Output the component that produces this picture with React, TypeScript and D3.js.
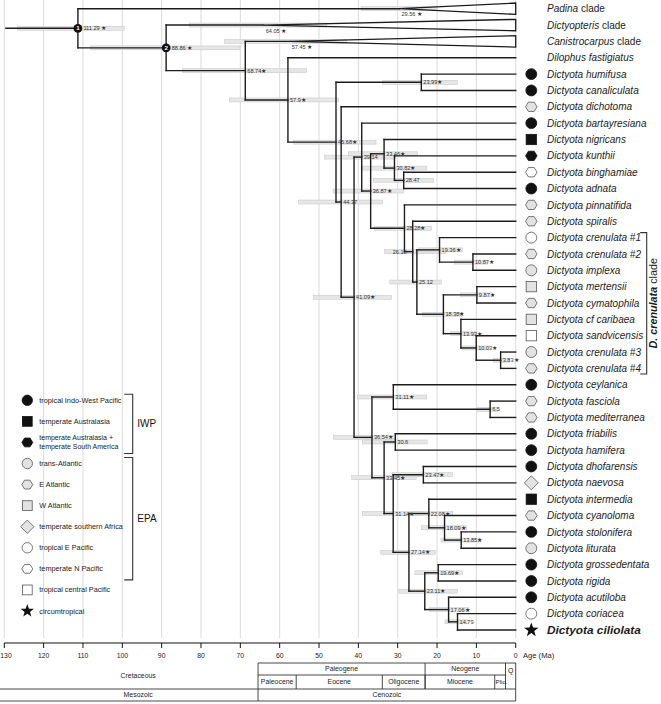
import React from 'react';
import * as d3 from 'd3';

// ---------------- DATA ----------------
const taxa = [
  'Padina clade', 'Dictyopteris clade', 'Canistrocarpus clade', 'Dilophus fastigiatus',
  'Dictyota humifusa', 'Dictyota canaliculata', 'Dictyota dichotoma', 'Dictyota bartayresiana',
  'Dictyota nigricans', 'Dictyota kunthii', 'Dictyota binghamiae', 'Dictyota adnata',
  'Dictyota pinnatifida', 'Dictyota spiralis', 'Dictyota crenulata #1', 'Dictyota crenulata #2',
  'Dictyota implexa', 'Dictyota mertensii', 'Dictyota cymatophila', 'Dictyota cf caribaea',
  'Dictyota sandvicensis', 'Dictyota crenulata #3', 'Dictyota crenulata #4', 'Dictyota ceylanica',
  'Dictyota fasciola', 'Dictyota mediterranea', 'Dictyota friabilis', 'Dictyota hamifera',
  'Dictyota dhofarensis', 'Dictyota naevosa', 'Dictyota intermedia', 'Dictyota cyanoloma',
  'Dictyota stolonifera', 'Dictyota liturata', 'Dictyota grossedentata', 'Dictyota rigida',
  'Dictyota acutiloba', 'Dictyota coriacea', 'Dictyota ciliolata',
];

const taxonParent = [
  'n1', 'n2', 'n3', 'n4',
  'n6', 'n6', 'n7', 'n9',
  'n11', 'n12', 'n13', 'n13',
  'n14', 'n15', 'n17', 'n18',
  'n18', 'n20', 'n20', 'n21',
  'n22', 'n23', 'n23', 'n25',
  'n26', 'n26', 'n28', 'n28',
  'n30', 'n30', 'n32', 'n33',
  'n34', 'n34', 'n36', 'n36',
  'n37', 'n38', 'n38',
];

const taxonRegion = [
  '', '', '', '',
  'tropical Indo-West Pacific', 'tropical Indo-West Pacific', 'E Atlantic', 'tropical Indo-West Pacific',
  'temperate Australasia', 'temperate Australasia + temperate South America', 'temperate N Pacific', 'tropical Indo-West Pacific',
  'E Atlantic', 'E Atlantic', 'tropical E Pacific', 'E Atlantic',
  'trans-Atlantic', 'W Atlantic', 'E Atlantic', 'W Atlantic',
  'tropical central Pacific', 'trans-Atlantic', 'E Atlantic', 'tropical Indo-West Pacific',
  'E Atlantic', 'E Atlantic', 'tropical Indo-West Pacific', 'tropical Indo-West Pacific',
  'tropical Indo-West Pacific', 'temperate southern Africa', 'temperate Australasia', 'E Atlantic',
  'tropical Indo-West Pacific', 'trans-Atlantic', 'tropical Indo-West Pacific', 'tropical Indo-West Pacific',
  'tropical Indo-West Pacific', 'tropical E Pacific', 'circumtropical',
];

// collapsed clades (crown ages)
const collapsedTaxa = ['Padina clade', 'Dictyopteris clade', 'Canistrocarpus clade'];
const collapsedAge = [29.56, 64.05, 57.45];
const collapsedHpdOld = [39.3, 83.0, 74.0];
const collapsedHpdYoung = [20.0, 48.0, 43.0];

const nodeIds = [
  'n1', 'n2', 'n3', 'n4', 'n5', 'n6', 'n7', 'n8', 'n9', 'n10',
  'n11', 'n12', 'n13', 'n14', 'n15', 'n16', 'n17', 'n18', 'n19', 'n20',
  'n21', 'n22', 'n23', 'n24', 'n25', 'n26', 'n27', 'n28', 'n29', 'n30',
  'n31', 'n32', 'n33', 'n34', 'n35', 'n36', 'n37', 'n38',
];
const nodeParent = [
  null, 'n1', 'n2', 'n3', 'n4', 'n5', 'n5', 'n7', 'n8', 'n9',
  'n10', 'n11', 'n12', 'n10', 'n14', 'n15', 'n16', 'n17', 'n16', 'n19',
  'n19', 'n21', 'n22', 'n8', 'n24', 'n25', 'n24', 'n27', 'n27', 'n29',
  'n29', 'n31', 'n32', 'n33', 'n31', 'n35', 'n35', 'n37',
];
const nodeAge = [
  111.29, 88.86, 68.74, 57.9, 45.68, 23.99, 44.37, 41.09, 39.14, 36.87,
  33.46, 30.82, 28.47, 28.28, 26.18, 25.12, 19.36, 10.87, 18.38, 9.87,
  13.93, 10.03, 3.83, 36.54, 31.11, 6.5, 33.45, 30.6, 31.14, 23.47,
  27.14, 22.08, 18.09, 13.85, 23.11, 19.69, 17.06, 14.79,
];
const hpdOld = [
  126.7, 108.1, 84.7, 72.8, 56.5, 33.8, 55.2, 51.4, 48.6, 46.4,
  42.5, 39.0, 36.1, 35.9, 33.3, 32.0, 24.7, 15.5, 23.7, 14.0,
  16.5, 13.5, 5.6, 46.3, 40.2, 9.7, 41.7, 39.0, 39.0, 31.4,
  34.3, 26.0, 24.0, 19.0, 29.7, 25.6, 22.0, 18.0,
];
const hpdYoung = [
  99.5, 70.2, 53.2, 45.0, 35.5, 14.8, 33.9, 31.6, 30.5, 28.5,
  25.0, 22.6, 20.9, 21.4, 17.8, 18.9, 13.5, 7.0, 13.5, 6.0,
  10.0, 7.0, 1.5, 30.5, 22.6, 4.5, 25.3, 22.5, 23.7, 16.1,
  20.4, 16.0, 12.5, 8.9, 14.8, 13.6, 12.0, 12.0,
];
const unsupportedNodes = ['n7', 'n9', 'n13', 'n15', 'n16', 'n26', 'n28', 'n38'];
const badgeNodes = ['n1', 'n2'];
const badgeText = ['1', '2'];
const leftLabelNodes = ['n15'];
const rootStemAge = 129.6;

const ageTicks = [130, 120, 110, 100, 90, 80, 70, 60, 50, 40, 30, 20, 10, 0];

const legendLabels = [
  'tropical Indo-West Pacific', 'temperate Australasia', 'temperate Australasia + temperate South America',
  'trans-Atlantic', 'E Atlantic', 'W Atlantic', 'temperate southern Africa',
  'tropical E Pacific', 'temperate N Pacific', 'tropical central Pacific', 'circumtropical',
];
const legendShape = ['circle', 'square', 'hexagon', 'circle', 'hexagon', 'square', 'diamond', 'circle', 'hexagon', 'square', 'star'];
const legendFill = ['black', 'black', 'black', 'gray', 'gray', 'gray', 'gray', 'white', 'white', 'white', 'black'];
const bracketNames = ['IWP', 'EPA'];
const bracketFrom = [0, 3];
const bracketTo = [2, 8];

const periodNames = ['Cretaceous', 'Paleogene', 'Neogene', 'Q'];
const periodStart = [130, 65.5, 23.03, 2.59];
const periodEnd = [65.5, 23.03, 2.59, 0];
const epochNames = ['Paleocene', 'Eocene', 'Oligocene', 'Miocene', 'Plio.'];
const epochStart = [65.5, 55.8, 33.9, 23.03, 5.33];
const epochEnd = [55.8, 33.9, 23.03, 5.33, 2.59];
const eraNames = ['Mesozoic', 'Cenozoic'];
const eraStart = [130, 65.5];
const eraEnd = [65.5, 0];

// ---------------- STYLE ----------------
const FONT = 'Liberation Sans, Arial, Helvetica, sans-serif';
const INK = '#1c1c1c';
const FILLS: Record<string, string> = { black: '#111', gray: '#e2e2e2', white: '#fff' };

function Marker({ shape, fill, cx, cy, s = 1 }: any) {
  const f = FILLS[fill];
  const stroke = fill === 'black' ? '#111' : '#555';
  const sw = 0.8;
  if (shape === 'circle') return <circle cx={cx} cy={cy} r={5.3 * s} fill={f} stroke={stroke} strokeWidth={sw} />;
  if (shape === 'square') return <rect x={cx - 5 * s} y={cy - 5 * s} width={10 * s} height={10 * s} fill={f} stroke={stroke} strokeWidth={sw} />;
  if (shape === 'hexagon') {
    const r = 5.6 * s;
    const pts = d3.range(6).map(i => {
      const a = (Math.PI / 3) * i;
      return [cx + r * Math.cos(a), cy + r * 0.93 * Math.sin(a)].join(',');
    }).join(' ');
    return <polygon points={pts} fill={f} stroke={stroke} strokeWidth={sw} />;
  }
  if (shape === 'diamond') {
    const r = 6.8 * s;
    return <polygon points={`${cx},${cy - r} ${cx + r},${cy} ${cx},${cy + r} ${cx - r},${cy}`} fill={f} stroke={stroke} strokeWidth={sw} />;
  }
  // star
  const R = 6.6 * s, r2 = 2.7 * s;
  const pts = d3.range(10).map(i => {
    const a = -Math.PI / 2 + (Math.PI / 5) * i;
    const rr = i % 2 === 0 ? R : r2;
    return [cx + rr * Math.cos(a), cy + rr * Math.sin(a)].join(',');
  }).join(' ');
  return <polygon points={pts} fill="#111" />;
}

export default function App() {
  const W = 661, H = 704;
  const x = d3.scaleLinear().domain([130, 0]).range([4.3, 515.7]);
  const rowY = d3.scaleLinear().domain([0, taxa.length - 1]).range([8.7, 630]);
  const legendY = d3.scaleLinear().domain([0, legendLabels.length - 1]).range([400.3, 611]);

  const rows: any[] = [
    ...nodeIds.map((id, i) => ({ id, parent: nodeParent[i] })),
    ...taxa.map((t, i) => ({ id: t, parent: taxonParent[i] })),
  ];
  const root: any = d3.stratify<any>().id((d: any) => d.id).parentId((d: any) => d.parent)(rows);
  root.eachAfter((n: any) => {
    if (!n.children) {
      n.yy = rowY(taxa.indexOf(n.id));
      const ci = collapsedTaxa.indexOf(n.id);
      n.xx = ci >= 0 ? x(collapsedAge[ci]) : x(0);
      n.ci = ci;
    } else {
      const ys = n.children.map((c: any) => c.yy);
      n.yy = (Math.min(...ys) + Math.max(...ys)) / 2;
      const ni = nodeIds.indexOf(n.id);
      n.xx = x(nodeAge[ni]);
      n.ni = ni;
    }
  });
  const all: any[] = root.descendants();
  const internals = all.filter((n: any) => n.children);
  const leaves = all.filter((n: any) => !n.children);

  const tipX = x(0);
  const gridTop = 0, gridBottom = 638;
  const axisY = 643;
  const t0 = 663, t1 = 675, t2 = 689, t3 = 701;

  const hpdH = 4;

  return (
    <svg width={W} height={H} style={{ position: 'absolute', left: 0, top: 0, background: '#fff' }} fontFamily={FONT}>
      <rect x={0} y={0} width={W} height={H} fill="#fff" />
      {/* grid */}
      {ageTicks.map(t => (
        <line key={'g' + t} x1={x(t)} x2={x(t)} y1={gridTop} y2={gridBottom} stroke="#d6d6d6" strokeWidth={0.9} />
      ))}

      {/* HPD bars */}
      {internals.map((n: any) => (
        <rect key={'h' + n.id} x={x(hpdOld[n.ni])} y={n.yy - hpdH / 2} width={x(hpdYoung[n.ni]) - x(hpdOld[n.ni])} height={hpdH}
          fill="#e6e6e6" stroke="#c4c4c4" strokeWidth={0.5} />
      ))}
      {leaves.filter((n: any) => n.ci >= 0).map((n: any) => (
        <rect key={'hc' + n.id} x={x(collapsedHpdOld[n.ci])} y={n.yy - hpdH / 2} width={x(collapsedHpdYoung[n.ci]) - x(collapsedHpdOld[n.ci])} height={hpdH}
          fill="#e6e6e6" stroke="#c4c4c4" strokeWidth={0.5} />
      ))}

      {/* branches */}
      <g stroke={INK} strokeWidth={1.4} fill="none" strokeLinecap="square">
        <line x1={x(rootStemAge)} x2={root.xx} y1={root.yy} y2={root.yy} />
        {all.filter((n: any) => n.parent).map((n: any) => (
          <line key={'b' + n.id} x1={n.parent.xx} x2={n.xx} y1={n.yy} y2={n.yy} />
        ))}
        {internals.map((n: any) => {
          const ys = n.children.map((c: any) => c.yy);
          return <line key={'v' + n.id} x1={n.xx} x2={n.xx} y1={Math.min(...ys)} y2={Math.max(...ys)} />;
        })}
      </g>
      {/* collapsed triangles */}
      {leaves.filter((n: any) => n.ci >= 0).map((n: any) => (
        <polygon key={'tri' + n.id} points={`${n.xx},${n.yy} ${tipX},${n.yy - 5.7} ${tipX},${n.yy + 5.7}`}
          fill="#fff" fillOpacity={0} stroke={INK} strokeWidth={1.3} strokeLinejoin="miter" />
      ))}

      {/* node labels */}
      {internals.map((n: any) => {
        const bi = badgeNodes.indexOf(n.id);
        const star = unsupportedNodes.indexOf(n.id) < 0;
        const left = leftLabelNodes.indexOf(n.id) >= 0;
        const label = String(nodeAge[n.ni]) + (star ? (bi >= 0 ? ' ★' : '★') : '');
        return (
          <g key={'l' + n.id}>
            {bi >= 0 && (
              <g>
                <circle cx={n.xx} cy={n.yy} r={4.4} fill="#111" />
                <text x={n.xx} y={n.yy + 2.2} fontSize={6.2} fontWeight="bold" fill="#fff" textAnchor="middle">{badgeText[bi]}</text>
              </g>
            )}
            <text x={left ? n.xx - 6 : n.xx + (bi >= 0 ? 5.5 : 2)} y={n.yy + 2} fontSize={5.6} fill="#333"
              textAnchor={left ? 'end' : 'start'}>{label}</text>
          </g>
        );
      })}
      {leaves.filter((n: any) => n.ci >= 0).map((n: any) => (
        <text key={'cl' + n.id} x={n.xx + 2} y={n.yy + 7.6} fontSize={5.6} fill="#333">{String(collapsedAge[n.ci]) + ' ★'}</text>
      ))}

      {/* tip markers and names */}
      {taxa.map((t, i) => {
        const y = rowY(i);
        const region = taxonRegion[i];
        const li = legendLabels.indexOf(region);
        const isClade = t.endsWith(' clade');
        const isFocus = t === 'Dictyota ciliolata';
        return (
          <g key={'t' + t}>
            {li >= 0 && <Marker shape={legendShape[li]} fill={legendFill[li]} cx={531.3} cy={y} s={isFocus ? 1.15 : 1.03} />}
            {isClade ? (
              <text x={547} y={y + 3.6} fontSize={10} fill={INK}>
                <tspan fontStyle="italic">{t.replace(' clade', '')}</tspan>
                <tspan> clade</tspan>
              </text>
            ) : (
              <text x={547} y={y + (isFocus ? 4.1 : 3.6)} fontSize={isFocus ? 11.8 : 10} fontStyle="italic"
                fontWeight={isFocus ? 'bold' : 'normal'} fill={INK}>{t}</text>
            )}
          </g>
        );
      })}

      {/* D. crenulata clade bracket */}
      {(() => {
        const y0 = rowY(taxa.indexOf('Dictyota crenulata #1')) - 5;
        const y1 = rowY(taxa.indexOf('Dictyota crenulata #4')) + 5.6;
        const bx = 646.7;
        return (
          <g>
            <path d={`M${bx - 6.5},${y0} H${bx} V${y1} H${bx - 6.5}`} fill="none" stroke="#333" strokeWidth={1.1} />
            <text transform={`translate(${bx + 10.5},${(y0 + y1) / 2}) rotate(-90)`} textAnchor="middle" fontSize={10.8} fill={INK}>
              <tspan fontStyle="italic" fontWeight="bold">D. crenulata</tspan>
              <tspan> clade</tspan>
            </text>
          </g>
        );
      })()}

      {/* legend */}
      {legendLabels.map((lab, i) => {
        const y = legendY(i);
        const parts = lab.includes(' + ') ? [lab.split(' + ')[0] + ' +', lab.split(' + ')[1]] : [lab];
        return (
          <g key={'lg' + i}>
            <Marker shape={legendShape[i]} fill={legendFill[i]} cx={27.3} cy={y} s={legendShape[i] === 'star' ? 1.05 : 0.98} />
            {parts.length === 1 ? (
              <text x={39.3} y={y + 2.5} fontSize={7.3} fill="#222">{lab}</text>
            ) : (
              <g>
                <text x={39.3} y={y - 2.4} fontSize={7} fill="#222">{parts[0]}</text>
                <text x={39.3} y={y + 6.2} fontSize={7} fill="#222">{parts[1]}</text>
              </g>
            )}
          </g>
        );
      })}
      {bracketNames.map((b, i) => {
        const ya = legendY(bracketFrom[i]) - 6;
        const yb = legendY(bracketTo[i]) + 11;
        const bx = 132.7;
        return (
          <g key={'br' + b}>
            <path d={`M${bx - 8.5},${ya} H${bx} V${yb} H${bx - 8.5}`} fill="none" stroke="#333" strokeWidth={1.1} />
            <text x={bx + 4.6} y={(ya + yb) / 2 + 3.6} fontSize={10} fill="#111">{b}</text>
          </g>
        );
      })}

      {/* axis */}
      <line x1={x(130)} x2={x(0)} y1={axisY} y2={axisY} stroke="#111" strokeWidth={1.1} />
      {ageTicks.map(t => (
        <g key={'tk' + t}>
          <line x1={x(t)} x2={x(t)} y1={axisY} y2={axisY + 5} stroke="#111" strokeWidth={1} />
          <text x={Math.max(x(t), 6)} y={axisY + 15} fontSize={6.8} textAnchor="middle" fill="#222">{t}</text>
        </g>
      ))}
      <text x={523} y={axisY + 15} fontSize={7.6} fill="#222">Age (Ma)</text>

      {/* geological timescale */}
      <g stroke="#333" strokeWidth={0.9}>
        <line x1={x(65.5)} x2={x(0)} y1={t0} y2={t0} />
        <line x1={x(65.5)} x2={x(2.59)} y1={t1} y2={t1} />
        <line x1={0} x2={x(0)} y1={t2} y2={t2} />
        <line x1={0} x2={x(0)} y1={t3} y2={t3} />
        <line x1={x(0)} x2={x(0)} y1={t0} y2={t3} />
        <line x1={x(65.5)} x2={x(65.5)} y1={t0} y2={t3} />
        {periodStart.slice(2).map((s, i) => (
          <line key={'pv' + i} x1={x(s)} x2={x(s)} y1={t0} y2={t2} />
        ))}
        {epochStart.slice(1).map((s, i) => (
          <line key={'ev' + i} x1={x(s)} x2={x(s)} y1={t1} y2={t2} />
        ))}
      </g>
      {periodNames.map((p, i) => {
        const cx = (x(periodStart[i]) + x(periodEnd[i])) / 2;
        const cy = p === 'Cretaceous' ? (t0 + t2) / 2 + 2.4 : p === 'Q' ? t0 + 10 : (t0 + t1) / 2 + 2.4;
        return <text key={'pn' + p} x={cx + (p === 'Cretaceous' ? 7 : 0)} y={cy} fontSize={p === 'Q' ? 7 : 6.9} textAnchor="middle" fill="#222">{p}</text>;
      })}
      {epochNames.map((e, i) => {
        const cx = (x(epochStart[i]) + x(epochEnd[i])) / 2;
        const isPlio = e === 'Plio.';
        return <text key={'en' + e} x={isPlio ? x(epochStart[i]) + 0.8 : cx} y={(t1 + t2) / 2 + 2.4} fontSize={isPlio ? 6.2 : 6.9}
          textAnchor={isPlio ? 'start' : 'middle'} fill="#222">{e}</text>;
      })}
      {eraNames.map((e, i) => {
        const cx = (x(eraStart[i]) + x(eraEnd[i])) / 2;
        return <text key={'er' + e} x={cx + (e === 'Mesozoic' ? 7 : 0)} y={(t2 + t3) / 2 + 2.4} fontSize={6.9} textAnchor="middle" fill="#222">{e}</text>;
      })}
    </svg>
  );
}
